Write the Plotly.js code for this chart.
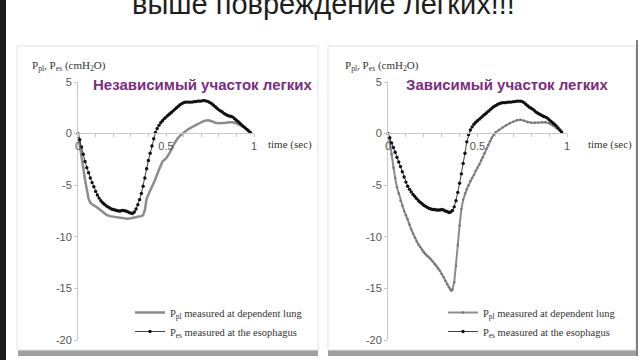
<!DOCTYPE html>
<html>
<head>
<meta charset="utf-8">
<script src="https://cdn.plot.ly/plotly-3.0.1.min.js"></script>
<style>html,body{margin:0;padding:0;background:#fff;}#chart{width:640px;height:360px;}</style>
</head>
<body>
<div id="chart"></div>
<script>
// ---- Data ----
var tEsLeft = [0,0.01,0.02,0.03,0.04,0.05,0.06,0.07,0.08,0.09,0.10,0.11,0.12,0.13,0.14,0.15,0.16,0.17,0.18,0.19,0.20,0.21,0.22,0.23,0.24,0.25,0.26,0.27,0.28,0.29,0.30,0.31,0.32,0.33,0.34,0.35,0.36,0.37,0.38,0.39,0.40,0.41,0.42,0.43,0.44,0.45,0.46,0.47,0.48,0.49,0.50,0.51,0.52,0.53,0.54,0.55,0.56,0.57,0.58,0.59,0.60,0.61,0.62,0.63,0.64,0.65,0.66,0.67,0.68,0.69,0.70,0.71,0.72,0.73,0.74,0.75,0.76,0.77,0.78,0.79,0.80,0.81,0.82,0.83,0.84,0.85,0.86,0.87,0.88,0.89,0.90,0.91,0.92,0.93,0.94,0.95,0.96,0.97,0.98];
var pEsLeft = [0,-0.6,-1.3,-2.0,-2.7,-3.3,-3.8,-4.3,-4.75,-5.15,-5.6,-5.95,-6.25,-6.5,-6.7,-6.85,-7.0,-7.1,-7.2,-7.3,-7.35,-7.4,-7.45,-7.5,-7.5,-7.45,-7.45,-7.5,-7.55,-7.65,-7.7,-7.75,-7.6,-7.3,-6.9,-6.4,-5.8,-5.1,-4.3,-3.4,-2.6,-1.9,-1.2,-0.5,0.1,0.5,0.8,1.05,1.25,1.45,1.6,1.75,1.9,2.05,2.2,2.35,2.5,2.65,2.8,2.9,3.0,3.05,3.05,3.05,3.05,3.05,3.1,3.1,3.15,3.15,3.15,3.2,3.2,3.15,3.1,3.0,2.9,2.75,2.6,2.45,2.3,2.2,2.1,1.95,1.85,1.75,1.7,1.65,1.6,1.45,1.3,1.15,1.0,0.85,0.7,0.55,0.4,0.25,0.1];

var tPlLeft = [0,0.01,0.02,0.03,0.04,0.05,0.06,0.07,0.08,0.10,0.12,0.14,0.16,0.18,0.20,0.22,0.24,0.26,0.28,0.30,0.32,0.34,0.36,0.37,0.38,0.39,0.40,0.42,0.44,0.46,0.48,0.50,0.52,0.54,0.56,0.58,0.60,0.62,0.64,0.66,0.68,0.70,0.72,0.74,0.76,0.78,0.80,0.82,0.84,0.86,0.88,0.90,0.92,0.94,0.96,0.98];
var pPlLeft = [0,-1.0,-2.2,-3.3,-4.5,-5.5,-6.3,-6.7,-6.85,-7.05,-7.3,-7.6,-7.85,-8.0,-8.05,-8.1,-8.15,-8.2,-8.25,-8.2,-8.1,-8.05,-8.0,-7.9,-7.4,-6.3,-5.9,-5.2,-4.4,-3.5,-2.7,-2.4,-1.9,-1.2,-0.6,-0.2,0.1,0.35,0.55,0.75,0.95,1.1,1.25,1.3,1.2,1.05,1.0,1.0,1.05,1.1,1.1,1.0,0.85,0.65,0.4,0.1];

var tEsRight = [0,0.01,0.02,0.03,0.04,0.05,0.06,0.07,0.08,0.09,0.10,0.11,0.12,0.13,0.14,0.15,0.16,0.17,0.18,0.19,0.20,0.21,0.22,0.23,0.24,0.25,0.26,0.27,0.28,0.29,0.30,0.31,0.32,0.33,0.34,0.35,0.36,0.37,0.38,0.39,0.40,0.41,0.42,0.43,0.44,0.45,0.46,0.47,0.48,0.49,0.50,0.51,0.52,0.53,0.54,0.55,0.56,0.57,0.58,0.59,0.60,0.61,0.62,0.63,0.64,0.65,0.66,0.67,0.68,0.69,0.70,0.71,0.72,0.73,0.74,0.75,0.76,0.77,0.78,0.79,0.80,0.81,0.82,0.83,0.84,0.85,0.86,0.87,0.88,0.89,0.90,0.91,0.92,0.93,0.94,0.95,0.96,0.97];
var pEsRight = [0,-0.4,-0.9,-1.35,-1.8,-2.3,-2.75,-3.2,-3.7,-4.2,-4.7,-5.1,-5.4,-5.65,-5.9,-6.1,-6.3,-6.5,-6.65,-6.8,-6.95,-7.05,-7.15,-7.25,-7.3,-7.35,-7.35,-7.4,-7.4,-7.4,-7.35,-7.4,-7.5,-7.55,-7.65,-7.6,-7.45,-7.1,-6.5,-5.7,-4.8,-3.9,-2.9,-1.9,-0.8,-0.1,0.35,0.65,0.9,1.1,1.25,1.4,1.55,1.7,1.85,2.0,2.15,2.3,2.45,2.6,2.7,2.8,2.9,2.95,3.0,3.0,3.0,3.05,3.05,3.05,3.1,3.1,3.15,3.15,3.15,3.1,3.0,2.85,2.7,2.55,2.45,2.35,2.2,2.05,1.95,1.85,1.75,1.65,1.6,1.5,1.35,1.2,1.05,0.9,0.75,0.55,0.35,0.15];

var tPlRight = [0,0.01,0.02,0.03,0.04,0.05,0.06,0.07,0.08,0.09,0.10,0.11,0.12,0.13,0.14,0.15,0.16,0.17,0.18,0.19,0.20,0.21,0.22,0.23,0.24,0.25,0.26,0.27,0.28,0.29,0.30,0.31,0.32,0.33,0.34,0.35,0.355,0.36,0.37,0.38,0.39,0.40,0.41,0.42,0.43,0.44,0.45,0.46,0.47,0.48,0.49,0.50,0.51,0.52,0.53,0.54,0.55,0.56,0.57,0.58,0.59,0.60,0.62,0.64,0.66,0.68,0.70,0.72,0.74,0.76,0.78,0.80,0.82,0.84,0.86,0.88,0.90,0.92,0.94,0.96,0.97];
var pPlRight = [0,-0.8,-2.0,-3.3,-4.3,-5.2,-5.8,-6.5,-7.0,-7.5,-7.9,-8.3,-8.8,-9.3,-9.7,-10.1,-10.45,-10.75,-11.0,-11.25,-11.5,-11.7,-11.85,-12.0,-12.2,-12.4,-12.6,-12.8,-13.05,-13.3,-13.6,-13.9,-14.25,-14.6,-14.9,-15.15,-15.2,-15.1,-14.4,-12.8,-10.8,-8.9,-7.3,-6.4,-5.8,-5.4,-5.0,-4.6,-4.3,-4.0,-3.6,-3.3,-3.0,-2.6,-2.3,-1.9,-1.5,-1.1,-0.75,-0.4,-0.1,0.1,0.35,0.6,0.8,1.0,1.15,1.3,1.35,1.25,1.1,1.05,1.05,1.05,1.1,1.1,1.0,0.8,0.55,0.3,0.15];

var xTickVals = [0, 0.5, 1];
var xTickText = ["0", "0.5", "1"];
var yTickVals = [5, 0, -5, -10, -15, -20];
var yTickText = ["5", "0", "-5", "-10", "-15", "-20"];

var seriesPl = "P<sub>pl</sub> measured at dependent lung";
var seriesEs = "P<sub>es</sub> measured at the esophagus";
var panelTitles = ["Независимый участок легких", "Зависимый участок легких"];
var slideTitle = "выше повреждение легких!!!";
var yTitle = "P<sub>pl</sub>, P<sub>es</sub> (cmH<sub>2</sub>O)";
var xTitle = "time (sec)";

// ---- Layout helpers (pixel -> paper) ----
var W = 640, H = 360;
function px(x){ return x / W; }
function py(y){ return 1 - y / H; }

var grayLine = '#8c8c8c';
var traces = [
  {x: tPlLeft, y: pPlLeft, type: 'scatter', mode: 'lines', name: seriesPl,
   line: {color: grayLine, width: 2.5}, xaxis: 'x', yaxis: 'y', legend: 'legend', cliponaxis: false},
  {x: tEsLeft, y: pEsLeft, type: 'scatter', mode: 'lines+markers', name: seriesEs,
   line: {color: '#111', width: 0.8}, marker: {color: '#111', size: 3.4},
   xaxis: 'x', yaxis: 'y', legend: 'legend', cliponaxis: false},
  {x: tPlRight, y: pPlRight, type: 'scatter', mode: 'lines+markers', name: seriesPl,
   line: {color: grayLine, width: 2}, marker: {color: '#777', size: 2.5},
   xaxis: 'x2', yaxis: 'y2', legend: 'legend2', cliponaxis: false},
  {x: tEsRight, y: pEsRight, type: 'scatter', mode: 'lines+markers', name: seriesEs,
   line: {color: '#111', width: 0.8}, marker: {color: '#111', size: 3.4},
   xaxis: 'x2', yaxis: 'y2', legend: 'legend2', cliponaxis: false}
];

var tickFont = {family: 'Liberation Sans, Arial, sans-serif', size: 11, color: '#555'};
function xAxis(d0, d1){
  return {domain: [px(d0), px(d1)], range: [0, 1], anchor: 'free', position: py(133),
    showline: true, linecolor: '#c8c8c8', linewidth: 1, zeroline: false, showgrid: false,
    tickmode: 'array', tickvals: xTickVals, ticktext: xTickText, ticks: 'outside', ticklen: 3,
    tickcolor: '#c8c8c8', tickfont: tickFont,
    minor: {dtick: 0.1, ticks: 'outside', ticklen: 3, tickcolor: '#c8c8c8', showgrid: false}};
}
function yAxis(anchor){
  return {domain: [py(340), py(82)], range: [-20, 5], anchor: anchor,
    showline: true, linecolor: '#c8c8c8', linewidth: 1, zeroline: false, showgrid: false,
    tickmode: 'array', tickvals: yTickVals, ticktext: yTickText, ticks: 'outside', ticklen: 3,
    tickcolor: '#c8c8c8', tickfont: tickFont};
}

var serif = 'Liberation Serif, Times New Roman, serif';
var purple = '#7b2d80';
var annotations = [
  {text: slideTitle, xref: 'paper', yref: 'paper', x: px(323), y: py(22), xanchor: 'center', yanchor: 'bottom',
   showarrow: false, font: {family: 'Liberation Sans, Arial, sans-serif', size: 29, color: '#1e1e1e'}},
  {text: yTitle, xref: 'paper', yref: 'paper', x: px(30), y: py(66), xanchor: 'left', yanchor: 'middle',
   showarrow: false, font: {family: serif, size: 11, color: '#333'}},
  {text: yTitle, xref: 'paper', yref: 'paper', x: px(343), y: py(66), xanchor: 'left', yanchor: 'middle',
   showarrow: false, font: {family: serif, size: 11, color: '#333'}},
  {text: xTitle, xref: 'paper', yref: 'paper', x: px(266), y: py(144), xanchor: 'left', yanchor: 'middle',
   showarrow: false, font: {family: serif, size: 11, color: '#333'}},
  {text: xTitle, xref: 'paper', yref: 'paper', x: px(586), y: py(144), xanchor: 'left', yanchor: 'middle',
   showarrow: false, font: {family: serif, size: 11, color: '#333'}},
  {text: '<b>' + panelTitles[0] + '</b>', xref: 'paper', yref: 'paper', x: px(91), y: py(84), xanchor: 'left', yanchor: 'middle',
   showarrow: false, font: {family: 'Liberation Sans, Arial, sans-serif', size: 15, color: purple}},
  {text: '<b>' + panelTitles[1] + '</b>', xref: 'paper', yref: 'paper', x: px(404), y: py(84), xanchor: 'left', yanchor: 'middle',
   showarrow: false, font: {family: 'Liberation Sans, Arial, sans-serif', size: 15, color: purple}}
];

var shapes = [
  {type: 'rect', xref: 'paper', yref: 'paper', x0: 0, x1: px(6), y0: 0, y1: 1, fillcolor: '#1b1b1b', line: {width: 0}, layer: 'below'},
  {type: 'rect', xref: 'paper', yref: 'paper', x0: px(18), x1: px(318), y0: py(356), y1: py(350), fillcolor: '#a0a0a0', line: {width: 0}, layer: 'below'},
  {type: 'rect', xref: 'paper', yref: 'paper', x0: px(328), x1: px(636), y0: py(356), y1: py(350), fillcolor: '#a0a0a0', line: {width: 0}, layer: 'below'},
  {type: 'rect', xref: 'paper', yref: 'paper', x0: px(17), x1: px(318), y0: py(350), y1: py(46), fillcolor: 'rgba(0,0,0,0)', line: {color: '#e2e2e2', width: 1}, layer: 'below'},
  {type: 'rect', xref: 'paper', yref: 'paper', x0: px(328), x1: px(636), y0: py(350), y1: py(46), fillcolor: 'rgba(0,0,0,0)', line: {color: '#e2e2e2', width: 1}, layer: 'below'},
  {type: 'line', xref: 'paper', yref: 'paper', x0: px(637), x1: px(637), y0: py(356), y1: py(40), line: {color: '#555', width: 1.5}, layer: 'below'}
];

var legendFont = {family: serif, size: 10.5, color: '#333'};
var layout = {
  width: W, height: H,
  margin: {l: 0, r: 0, t: 0, b: 0},
  paper_bgcolor: '#fff', plot_bgcolor: 'rgba(0,0,0,0)',
  showlegend: true,
  xaxis: xAxis(78, 254),
  yaxis: yAxis('x'),
  xaxis2: xAxis(388, 567),
  yaxis2: yAxis('x2'),
  legend: {x: px(130), y: py(298), xanchor: 'left', yanchor: 'top', bgcolor: 'rgba(0,0,0,0)',
    font: legendFont, itemwidth: 30, tracegroupgap: 0, traceorder: 'normal'},
  legend2: {x: px(443), y: py(298), xanchor: 'left', yanchor: 'top', bgcolor: 'rgba(0,0,0,0)',
    font: legendFont, itemwidth: 30, tracegroupgap: 0, traceorder: 'normal'},
  annotations: annotations,
  shapes: shapes
};

Plotly.newPlot('chart', traces, layout, {staticPlot: true, displayModeBar: false});
</script>
</body>
</html>
